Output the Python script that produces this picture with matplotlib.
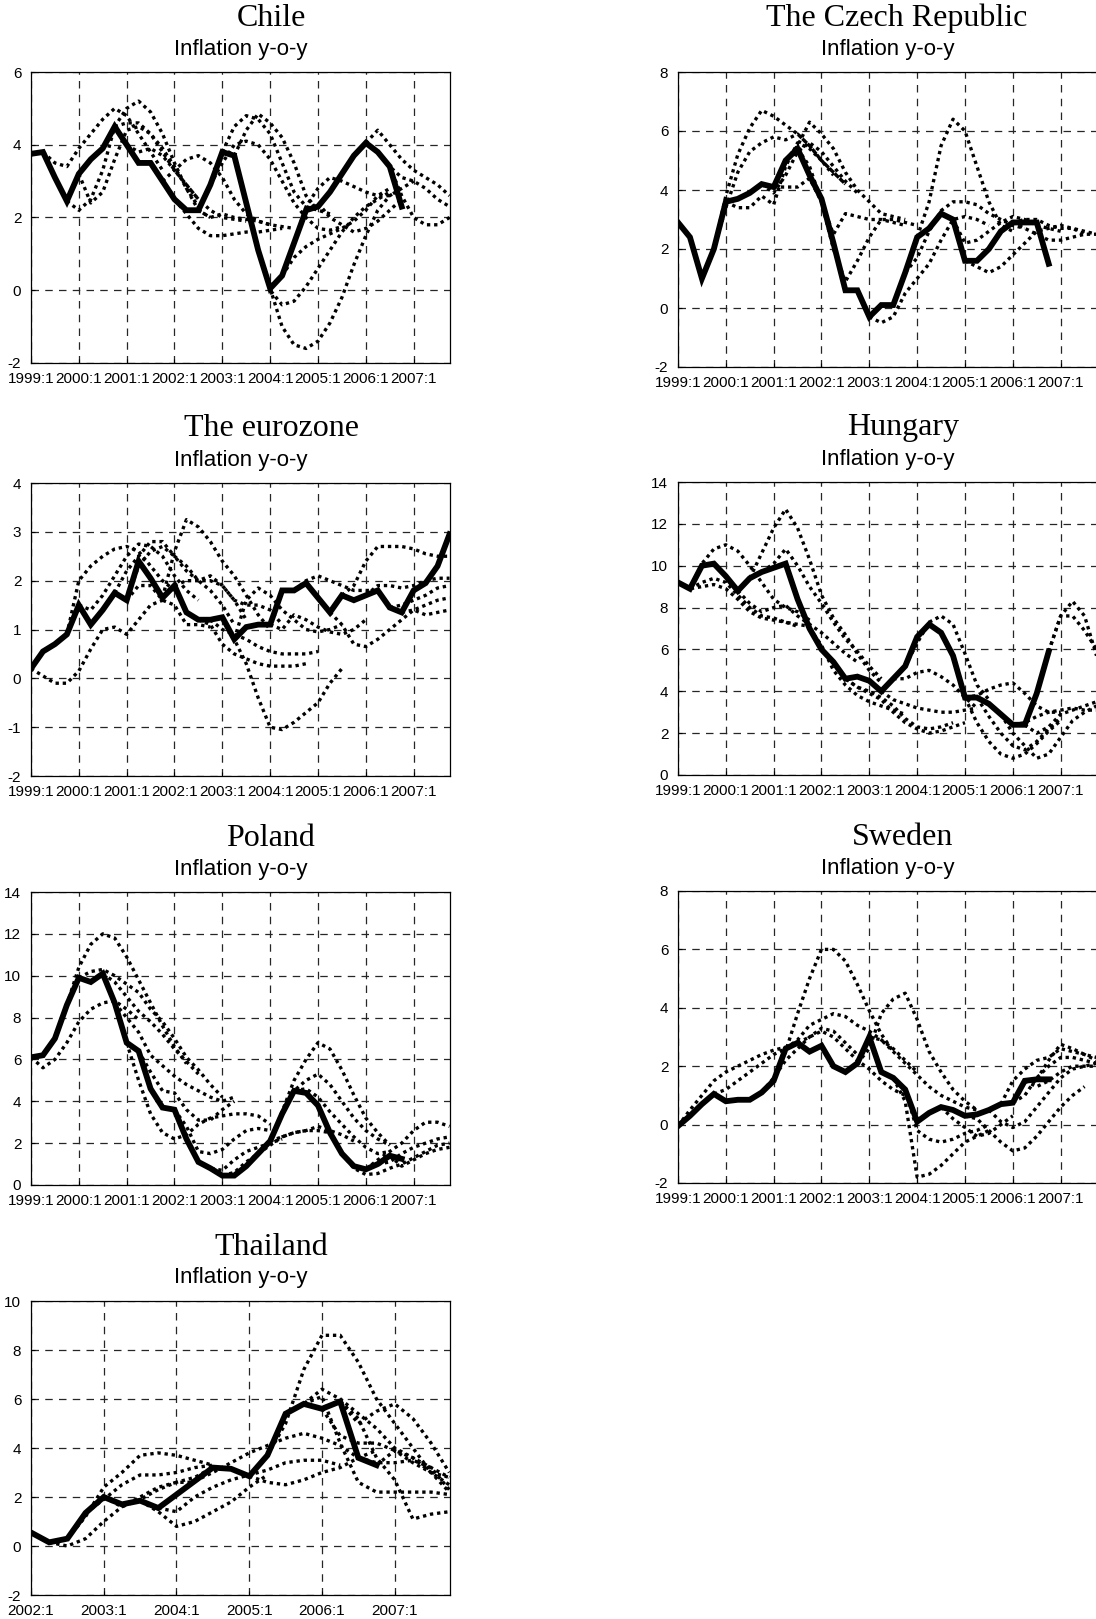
import numpy as np
import matplotlib.pyplot as plt

plt.rcParams['font.family'] = ['Liberation Sans', 'DejaVu Sans']
plt.rcParams['axes.unicode_minus'] = False

# quarterly y-o-y inflation (solid) and forecast paths (dotted: start quarter, values)
chile_actual = [3.75, 3.8, 3.1, 2.45, 3.2, 3.6, 3.9, 4.5, 4.0, 3.5, 3.5, 3.0, 2.5, 2.2, 2.2, 2.9,
                3.8, 3.7, 2.4, 1.1, 0.05, 0.4, 1.3, 2.2, 2.3, 2.7, 3.2, 3.7, 4.05, 3.8, 3.4, 2.3]
chile_paths = [
    (1, [3.8, 3.5, 3.4, 3.9, 4.3, 4.7, 5.0, 4.8, 4.3, 3.8, 3.3]),
    (3, [2.45, 2.2, 2.5, 3.3, 4.5, 5.0, 5.2, 4.9, 4.3, 3.5, 2.8, 2.3]),
    (4, [3.2, 2.4, 2.7, 3.6, 4.4, 4.5, 4.3, 3.8, 3.3, 2.9, 2.5]),
    (7, [4.5, 4.6, 4.6, 4.3, 3.9, 3.4, 2.8, 2.2, 2.0]),
    (8, [4.0, 3.8, 3.9, 3.7, 3.3, 2.9, 2.5, 2.2, 2.0, 1.95, 1.9]),
    (11, [3.0, 3.3, 3.6, 3.7, 3.5, 3.1, 2.5, 2.1, 1.9, 1.8]),
    (12, [2.5, 2.1, 1.7, 1.5, 1.5, 1.55, 1.6, 1.6, 1.65, 1.7]),
    (14, [2.2, 2.0, 2.1, 2.0, 1.95, 1.9, 1.8, 1.75, 1.7]),
    (15, [2.9, 3.5, 4.0, 4.1, 4.0, 3.6, 3.0, 2.4, 2.0, 1.7, 1.65, 1.75]),
    (16, [3.8, 4.5, 4.8, 4.7, 4.3, 3.5, 2.7, 2.3, 2.2, 2.1]),
    (17, [3.7, 4.4, 4.85, 4.6, 4.2, 3.5, 2.6, 2.2]),
    (19, [1.1, 0.0, -0.4, -0.3, 0.1, 0.6, 1.1, 1.6, 2.0, 2.3, 2.5, 2.7]),
    (20, [0.05, -1.0, -1.5, -1.6, -1.4, -0.9, -0.2, 0.7, 1.5, 2.2, 2.6, 2.8]),
    (21, [0.4, 0.9, 1.2, 1.4, 1.55, 1.7, 1.9, 2.2, 2.6, 2.8]),
    (22, [1.3, 2.3, 2.8, 3.1, 3.0, 2.85, 2.7, 2.6, 2.6, 2.8, 3.0]),
    (23, [2.2, 2.4, 2.0, 1.8, 1.6, 1.7, 1.9, 2.2, 2.5]),
    (28, [4.05, 4.4, 4.0, 3.6, 3.3, 3.1, 2.9, 2.6]),
    (29, [3.8, 3.4, 3.1, 3.0, 2.8, 2.5, 2.3]),
    (30, [3.4, 2.6, 2.0, 1.8, 1.8, 2.0]),
]

czech_actual = [2.9, 2.4, 1.0, 2.0, 3.6, 3.7, 3.9, 4.2, 4.1, 5.0, 5.4, 4.5, 3.7, 2.2, 0.6, 0.6,
                -0.3, 0.1, 0.1, 1.2, 2.4, 2.7, 3.2, 3.0, 1.6, 1.6, 2.0, 2.6, 2.9, 2.9, 2.9, 1.5]
czech_paths = [
    (3, [2.0, 3.8, 5.2, 6.1, 6.7, 6.5, 6.2, 5.9, 5.5, 5.0, 4.5]),
    (3, [2.0, 3.4, 4.6, 5.3, 5.6, 5.8, 5.7, 5.9, 5.5, 5.0, 4.6, 4.2]),
    (4, [3.6, 3.4, 3.4, 3.8, 3.5, 4.8, 5.6, 5.4, 5.0, 4.6, 4.2]),
    (7, [4.2, 3.9, 4.5, 5.3, 5.6, 5.3, 4.8, 4.3, 3.9]),
    (9, [5.0, 5.5, 6.3, 5.9, 5.4, 4.6, 4.0, 3.6, 3.2, 3.1, 3.0]),
    (8, [4.1, 4.1, 4.1, 4.4, 3.6, 2.5, 3.2, 3.1, 3.0, 3.0, 2.9, 2.8]),
    (10, [5.4, 4.8, 3.6, 2.0, 0.9, 1.6, 2.4, 3.0, 3.0, 2.9, 2.8]),
    (16, [-0.3, -0.5, -0.3, 0.5, 1.0, 1.5, 2.3, 3.0, 3.1, 3.0, 2.8]),
    (19, [1.2, 1.7, 2.6, 3.3, 3.6, 3.6, 3.5, 3.2, 3.0, 2.8, 2.7]),
    (20, [2.4, 3.6, 5.5, 6.4, 6.0, 4.8, 3.6, 2.8, 2.6]),
    (23, [3.0, 2.2, 2.3, 2.6, 2.9, 3.1, 3.0, 2.8, 2.7, 2.6]),
    (24, [1.6, 1.4, 1.2, 1.4, 1.8, 2.2, 2.6, 2.7, 2.8, 2.7, 2.5]),
    (27, [2.6, 2.9, 3.0, 3.0, 2.8, 2.7, 2.7, 2.6, 2.5]),
    (28, [2.9, 2.7, 2.5, 2.3, 2.3, 2.4, 2.5, 2.5]),
]

euro_actual = [0.2, 0.55, 0.7, 0.9, 1.5, 1.1, 1.4, 1.75, 1.6, 2.4, 2.05, 1.65, 1.9, 1.35, 1.2, 1.2,
               1.25, 0.8, 1.05, 1.1, 1.1, 1.8, 1.8, 1.95, 1.65, 1.35, 1.7, 1.6, 1.7, 1.8, 1.45, 1.35,
               1.8, 1.95, 2.3, 2.95]
euro_paths = [
    (0, [0.2, 0.05, -0.1, -0.1, 0.15, 0.6, 1.0, 1.05, 0.9, 1.2, 1.5, 1.6]),
    (3, [0.9, 2.0, 2.3, 2.5, 2.65, 2.7, 2.6, 2.3, 2.0, 1.8]),
    (4, [1.5, 1.4, 1.7, 2.1, 2.5, 2.75, 2.7, 2.5, 2.1, 1.8, 1.6]),
    (7, [1.75, 2.2, 2.5, 2.8, 2.8, 2.5, 2.3, 2.0, 1.8, 1.5, 1.1]),
    (8, [1.6, 1.9, 1.9, 1.6, 1.5, 1.1, 1.1, 1.05]),
    (8, [1.6, 2.3, 2.6, 2.7, 2.5, 2.2, 2.0, 2.0, 1.9, 1.6, 1.2]),
    (11, [1.65, 2.6, 3.25, 3.1, 2.8, 2.4, 2.1, 1.7, 1.3, 1.0]),
    (12, [1.9, 2.0, 2.0, 2.1, 1.9, 1.6, 1.5, 1.5, 1.4, 1.1]),
    (14, [1.2, 1.1, 0.7, 0.5, 0.4, 0.3, 0.25, 0.25, 0.25, 0.3]),
    (15, [1.2, 1.0, 0.9, 0.8, 0.65, 0.55, 0.5, 0.5, 0.5, 0.55]),
    (16, [1.25, 0.8, 0.3, -0.4, -1.0, -1.05, -0.9, -0.7, -0.5, -0.1, 0.2]),
    (17, [0.8, 1.6, 1.85, 1.7, 1.4, 1.2, 1.0, 0.95, 1.0, 1.1]),
    (20, [1.1, 1.0, 1.3, 1.2, 1.05, 0.95, 0.9, 1.0, 1.2]),
    (22, [1.8, 2.0, 2.1, 2.0, 1.9, 1.8, 1.8, 1.8]),
    (25, [1.35, 1.1, 0.7, 0.65, 0.8, 1.0, 1.2, 1.4, 1.5, 1.6, 1.65]),
    (26, [1.7, 1.9, 2.4, 2.7, 2.7, 2.7, 2.65, 2.55, 2.5, 2.5]),
    (28, [1.7, 1.9, 1.9, 1.85, 1.9, 2.0, 2.05, 2.05]),
    (30, [1.45, 1.5, 1.6, 1.7, 1.85, 1.9]),
    (31, [1.35, 1.4, 1.3, 1.35, 1.4]),
]

hungary_actual = [9.2, 8.9, 10.0, 10.1, 9.5, 8.8, 9.4, 9.7, 9.9, 10.1, 8.4, 7.0, 6.0, 5.4, 4.6, 4.7,
                  4.5, 4.0, 4.6, 5.2, 6.6, 7.2, 6.8, 5.7, 3.7, 3.7, 3.4, 2.9, 2.4, 2.4, 3.9, 5.9]
hungary_paths = [
    (1, [8.9, 10.1, 10.8, 11.0, 10.7, 10.0, 9.2, 8.4, 8.0, 7.8, 7.4]),
    (1, [8.9, 9.2, 9.4, 9.2, 8.6, 8.0, 7.6, 7.5, 7.3, 7.2, 7.1]),
    (0, [9.2, 8.9, 9.0, 9.1, 8.9, 8.4, 7.8, 7.5, 7.4, 7.3, 7.1]),
    (6, [9.4, 10.6, 11.8, 12.7, 11.8, 10.3, 8.6, 7.5, 6.7, 5.8, 5.0, 4.4]),
    (7, [9.7, 10.1, 10.8, 10.0, 9.0, 8.2, 7.3, 6.5, 5.9, 5.2, 4.6]),
    (5, [8.8, 8.2, 7.8, 8.0, 8.1, 7.6, 7.2, 6.8, 6.3, 5.8, 5.4]),
    (11, [7.0, 6.2, 5.0, 4.3, 3.8, 3.5, 3.3, 3.1, 2.9]),
    (13, [5.4, 4.6, 4.2, 4.0, 3.7, 3.3, 2.7, 2.3, 2.2, 2.3, 2.5]),
    (14, [4.6, 4.2, 3.9, 3.6, 3.0, 2.5, 2.2, 2.0, 2.1, 2.3, 2.5]),
    (17, [4.0, 3.6, 3.4, 3.2, 3.1, 3.0, 3.0, 3.1, 3.2]),
    (18, [4.6, 4.6, 4.9, 5.0, 4.7, 4.3, 3.7, 3.2]),
    (19, [5.2, 6.3, 7.3, 7.6, 7.2, 5.8, 4.3, 3.6]),
    (24, [3.7, 3.8, 4.1, 4.3, 4.4, 3.9, 3.3, 3.0, 3.0]),
    (24, [3.7, 2.5, 1.6, 1.0, 0.8, 1.0, 1.5, 2.1, 2.6]),
    (25, [3.7, 2.8, 2.0, 1.4, 1.2, 1.6, 2.2, 2.7]),
    (27, [2.9, 2.0, 1.4, 0.8, 1.0, 1.8, 2.6, 3.0, 3.3]),
    (29, [2.4, 2.0, 2.3, 2.9, 3.1, 3.3, 3.5]),
    (28, [2.4, 2.5, 2.8, 3.0, 3.1, 3.2, 3.1, 3.1]),
    (31, [5.9, 7.6, 8.3, 7.6, 5.7]),
    (31, [5.9, 7.6, 7.6, 6.9, 6.0]),
]

poland_actual = [6.1, 6.2, 7.0, 8.6, 9.9, 9.7, 10.1, 8.7, 6.8, 6.4, 4.6, 3.7, 3.6, 2.2, 1.1, 0.8,
                 0.45, 0.45, 0.9, 1.5, 2.1, 3.4, 4.5, 4.4, 3.8, 2.5, 1.5, 0.9, 0.75, 1.0, 1.4, 1.25]
poland_paths = [
    (0, [6.1, 5.6, 6.0, 6.8, 7.8, 8.4, 8.7, 8.8, 8.4, 7.9]),
    (3, [8.6, 10.4, 11.5, 12.0, 11.8, 10.9, 9.8, 8.7, 7.6, 6.6, 5.8]),
    (4, [9.9, 10.2, 10.3, 10.0, 9.6, 9.2, 8.4, 7.8, 7.0, 6.1, 5.5, 4.8, 4.2]),
    (6, [10.1, 9.7, 9.0, 8.3, 7.8, 7.2, 6.5, 5.9, 5.3]),
    (7, [8.7, 8.0, 7.3, 6.2, 5.7, 5.2, 4.8, 4.5, 4.2, 4.0, 4.2]),
    (8, [6.8, 5.0, 3.4, 2.5, 2.2, 2.4, 2.9, 3.2, 3.3, 3.4, 3.4, 3.3, 2.9]),
    (9, [6.4, 5.4, 4.5, 4.4, 3.6, 3.1, 3.1, 3.6, 4.0]),
    (12, [3.6, 2.8, 1.6, 1.5, 1.7, 2.2, 2.6, 2.7, 2.6]),
    (14, [1.1, 0.8, 0.7, 1.2, 1.6, 1.8, 2.0, 2.2]),
    (16, [0.45, 0.6, 1.1, 1.5, 1.9, 2.3, 2.5, 2.6, 2.6, 2.5]),
    (20, [2.1, 3.5, 5.0, 6.0, 6.8, 6.5, 5.5, 4.3, 3.2, 2.5, 1.9]),
    (21, [3.4, 4.5, 5.0, 5.3, 4.8, 4.0, 3.2, 2.6, 2.2, 1.9]),
    (20, [2.1, 2.3, 2.5, 2.6, 2.8, 2.6, 2.4, 2.1]),
    (22, [4.5, 4.6, 4.2, 3.5, 2.9, 2.3, 1.8, 1.5, 1.6]),
    (26, [1.5, 0.8, 0.5, 0.55, 0.8, 1.0, 1.3, 1.6, 1.9, 2.0]),
    (28, [0.75, 1.2, 1.6, 2.0, 2.6, 3.0, 3.0, 2.8]),
    (29, [1.0, 1.1, 1.5, 1.8, 2.0, 2.2, 2.3]),
    (30, [1.4, 0.9, 1.2, 1.5, 1.7, 1.8]),
]

sweden_actual = [-0.05, 0.3, 0.7, 1.05, 0.8, 0.85, 0.85, 1.1, 1.5, 2.6, 2.8, 2.5, 2.7, 2.0, 1.8, 2.1,
                 3.0, 1.8, 1.6, 1.2, 0.1, 0.4, 0.6, 0.5, 0.3, 0.35, 0.5, 0.7, 0.75, 1.5, 1.55, 1.55]
sweden_paths = [
    (0, [-0.05, 0.5, 1.0, 1.5, 1.8, 2.0, 2.2, 2.4, 2.55, 2.65]),
    (3, [1.05, 1.2, 1.5, 1.8, 2.1, 2.4, 2.6]),
    (7, [1.1, 1.6, 2.2, 2.6, 3.0, 3.3, 3.2, 2.8, 2.4]),
    (8, [1.5, 2.5, 3.8, 5.0, 6.0, 6.0, 5.6, 4.8, 3.9, 3.1, 2.5]),
    (9, [2.6, 2.9, 3.4, 3.6, 3.8, 3.7, 3.4, 3.2, 2.9, 2.6, 2.2, 1.8]),
    (10, [2.8, 3.0, 3.2, 3.0, 2.6, 2.2, 1.9, 1.5, 1.2, 1.0]),
    (15, [2.1, 2.6, 3.8, 4.3, 4.5, 3.6, 2.5, 1.8, 1.2, 0.8, 0.5]),
    (16, [3.0, 2.9, 2.5, 2.1, 1.7, 1.3, 1.0, 0.8, 0.6, 0.5]),
    (18, [1.6, 0.8, -1.8, -1.7, -1.4, -1.0, -0.6, -0.4, -0.2]),
    (19, [1.2, -0.2, -0.5, -0.6, -0.5, -0.3, -0.2, 0.0]),
    (22, [0.6, 0.2, -0.1, -0.4, -0.3, 0.0, 0.3]),
    (24, [0.3, 0.2, -0.2, -0.6, -0.9, -0.8, -0.4, 0.1, 0.6, 1.0, 1.3]),
    (26, [0.5, 0.1, -0.1, 0.1, 0.6, 1.1, 1.6, 1.9, 2.0, 2.1]),
    (27, [0.7, 1.5, 1.9, 2.2, 2.3, 2.6, 2.5, 2.4, 2.2]),
    (28, [0.75, 1.0, 1.6, 2.0, 2.3, 2.3, 2.2, 2.1]),
    (29, [1.5, 1.3, 1.5, 1.8, 2.0, 2.0, 2.0]),
    (30, [1.55, 2.2, 2.75, 2.6, 2.4, 2.3]),
]

thai_actual = [0.55, 0.15, 0.3, 1.35, 2.0, 1.7, 1.85, 1.55, 2.1, 2.65, 3.2, 3.15, 2.85, 3.7, 5.4, 5.8,
               5.6, 5.9, 3.6, 3.3]
thai_paths = [
    (1, [0.15, 0.0, 0.3, 1.0, 1.6, 2.0, 2.4, 2.6, 2.6]),
    (2, [0.3, 1.2, 2.4, 3.0, 3.7, 3.8, 3.7, 3.5, 3.3]),
    (3, [1.35, 1.9, 2.5, 2.9, 2.9, 3.0, 3.2, 3.3]),
    (4, [2.0, 1.6, 1.9, 2.3, 2.6, 2.8, 3.2]),
    (6, [1.85, 1.4, 0.8, 1.0, 1.4, 1.8, 2.4, 2.9]),
    (7, [1.55, 1.4, 2.0, 2.4, 2.7, 2.9, 3.1, 3.4, 3.5, 3.5, 3.3]),
    (9, [2.65, 3.0, 3.4, 3.8, 4.1, 4.4, 4.6, 4.4, 4.1, 3.6]),
    (12, [2.85, 2.6, 2.5, 2.7, 3.0, 3.2, 3.6, 3.9]),
    (13, [3.7, 5.0, 7.2, 8.6, 8.6, 7.5, 6.0, 5.0, 4.0, 3.0, 2.8]),
    (14, [5.4, 5.8, 6.4, 6.0, 5.4, 4.8, 4.0, 3.6, 3.0, 2.5]),
    (15, [5.8, 6.1, 4.2, 2.6, 2.2, 2.2, 2.2, 2.2, 2.1]),
    (16, [5.6, 4.5, 4.2, 4.2, 3.9, 3.6, 3.2, 2.8]),
    (17, [5.9, 5.2, 3.6, 2.7, 1.1, 1.3, 1.4]),
    (17, [5.9, 5.0, 5.5, 5.8, 5.2, 4.2, 3.0]),
    (18, [3.6, 3.4, 3.4, 3.5, 3.2, 2.3]),
    (19, [3.3, 3.9, 3.4, 3.0, 2.2]),
]

W, H = 1096, 1619
fig = plt.figure(figsize=(W / 100, H / 100), dpi=100)


def panel(px_left, px_top, px_bottom, country, title_x, actual, paths,
          first_year, ylim, ystep):
    ax = fig.add_axes([px_left / W, 1 - px_bottom / H, 419 / W, (px_bottom - px_top) / H])
    for start, vals in paths:
        x = first_year + (start + np.arange(len(vals))) / 4
        ax.plot(x, vals, color='black', lw=2.4, linestyle=(0, (1, 1.15)))
    x = first_year + np.arange(len(actual)) / 4
    ax.plot(x, actual, color='black', lw=4.2, solid_joinstyle='miter')

    years = np.arange(first_year, 2008)
    ax.set_xticks(years)
    ax.set_xticklabels([f'{y}:1' for y in years])
    ax.set_xlim(first_year, 2007.76)
    ax.set_ylim(*ylim)
    ax.set_yticks(np.arange(ylim[0], ylim[1] + 0.1, ystep))
    ax.grid(True, color='0.15', lw=0.9, linestyle=(0, (6, 5)))
    ax.tick_params(direction='in', length=3, width=0.8, labelsize=11, colors='black')
    ax.tick_params(axis='y', pad=7)
    ax.tick_params(axis='x', pad=6.5)
    for s in ax.spines.values():
        s.set_linewidth(0.9)

    cx = px_left + 419 / 2
    fig.text(cx / W, 1 - (px_top - 23) / H, 'Inflation y-o-y', ha='center', va='center',
             fontsize=16)
    fig.text(title_x / W, 1 - (px_top - 54) / H, country, ha='center', va='center',
             fontsize=23, family='Liberation Serif')
    return ax


panel(31, 72, 363, 'Chile', 271, chile_actual, chile_paths, 1999, (-2, 6), 2)
panel(678, 72, 367, 'The Czech Republic', 897, czech_actual, czech_paths, 1999, (-2, 8), 2)
panel(31, 483, 776, 'The eurozone', 271, euro_actual, euro_paths, 1999, (-2, 4), 1)
panel(678, 482, 775, 'Hungary', 903, hungary_actual, hungary_paths, 1999, (0, 14), 2)
panel(31, 892, 1185, 'Poland', 271, poland_actual, poland_paths, 1999, (0, 14), 2)
panel(678, 891, 1183, 'Sweden', 903, sweden_actual, sweden_paths, 1999, (-2, 8), 2)
panel(31, 1301, 1595, 'Thailand', 271, thai_actual, thai_paths, 2002, (-2, 10), 2)

fig.savefig('out.png', dpi=100)
